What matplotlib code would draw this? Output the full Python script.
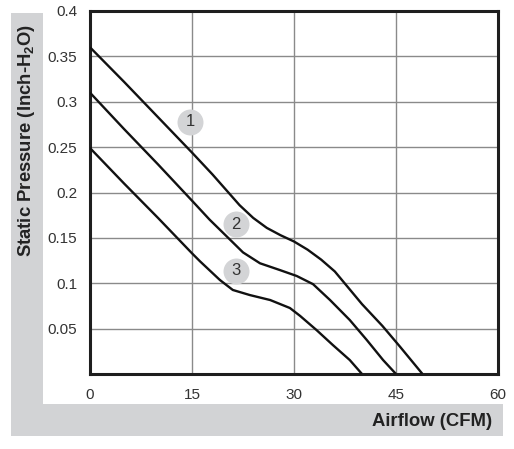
import matplotlib
matplotlib.use("Agg")
import matplotlib.pyplot as plt
from matplotlib.patches import Rectangle

plt.rcParams['font.family'] = ['Liberation Sans', 'DejaVu Sans']
plt.rcParams['mathtext.fontset'] = 'custom'
plt.rcParams['mathtext.rm'] = 'Liberation Sans'
plt.rcParams['mathtext.bf'] = 'Liberation Sans:bold'

# Data
c1_x = [0, 5, 10, 15, 18, 20, 22, 24, 26, 28, 30, 32, 34, 36, 38, 40, 43, 45.6, 48.9]
c1_y = [0.360, 0.322, 0.283, 0.244, 0.220, 0.203, 0.186, 0.172, 0.161, 0.153, 0.146, 0.137,
        0.126, 0.113, 0.095, 0.077, 0.053, 0.030, 0.0]
c2_x = [0, 5, 10, 15, 17.6, 20.6, 22.5, 25, 27.9, 30.4, 32.8, 35.3, 38.2, 40.7, 43.1, 45]
c2_y = [0.310, 0.270, 0.231, 0.191, 0.170, 0.148, 0.134, 0.122, 0.1146, 0.108, 0.099, 0.0815,
        0.0595, 0.0375, 0.0154, 0.0]
c3_x = [0, 5, 10, 15, 16.2, 19.1, 21, 23.5, 26.5, 29.4, 30.9, 33.3, 35.7, 38.2, 40]
c3_y = [0.249, 0.210, 0.172, 0.133, 0.124, 0.1036, 0.0926, 0.087, 0.0815, 0.0727, 0.064, 0.0485,
        0.032, 0.0154, 0.0]
labels = ['1', '2', '3']
label_x = [14.7, 21.4, 21.4]
label_y = [0.278, 0.165, 0.114]

x_ticks = [0, 15, 30, 45, 60]
y_ticks = [0.05, 0.1, 0.15, 0.2, 0.25, 0.3, 0.35, 0.4]
y_ticklabels = ['0.05', '0.1', '0.15', '0.2', '0.25', '0.3', '0.35', '0.4']

W, H = 514, 449
fig = plt.figure(figsize=(W/100, H/100), dpi=100)
fig.patch.set_facecolor('white')
gray = '#d2d3d5'
fig.patches.append(Rectangle((11/W, 13/H), 492/W, 423/H, transform=fig.transFigure,
                             facecolor=gray, edgecolor='none', zorder=-2))
fig.patches.append(Rectangle((43/W, 45/H), 1, 1, transform=fig.transFigure,
                             facecolor='white', edgecolor='none', zorder=-1))

ax = fig.add_axes([90/W, 75/H, 408/W, 363/H])
ax.set_zorder(2)
ax.set_facecolor('white')
ax.set_xlim(0, 60)
ax.set_ylim(0, 0.4)
ax.set_xticks(x_ticks)
ax.set_xticklabels([str(v) for v in x_ticks])
ax.set_yticks(y_ticks)
ax.set_yticklabels(y_ticklabels)
ax.tick_params(length=0, labelsize=11, labelcolor='#333333', pad=9)
ax.tick_params(axis='x', pad=10)
ax.grid(True, color='#8a8a8a', linewidth=1.0)
ax.set_axisbelow(True)
for s in ax.spines.values():
    s.set_linewidth(2.2)
    s.set_color('#1e1e1e')

for xs, ys in [(c1_x, c1_y), (c2_x, c2_y), (c3_x, c3_y)]:
    ax.plot(xs, ys, color='#111111', linewidth=1.7, solid_capstyle='butt',
            solid_joinstyle='round', zorder=3)

for t, lx, ly in zip(labels, label_x, label_y):
    ax.plot([lx], [ly], marker='o', markersize=18.7, markerfacecolor='#d3d4d6',
            markeredgecolor='none', zorder=4)
    ax.text(lx, ly, t, ha='center', va='center', fontsize=12, color='#333333', zorder=5)

fig.text(27/W, 1 - 140/H, 'Static Pressure (Inch-H$_{\\mathbf{2}}$O)', rotation=90,
         ha='center', va='center', fontsize=13.3, fontweight='bold', color='#222222')
fig.text(492/W, 1 - 422/H, 'Airflow (CFM)', ha='right', va='center',
         fontsize=13.3, fontweight='bold', color='#222222')

fig.savefig('out.png', dpi=100)
